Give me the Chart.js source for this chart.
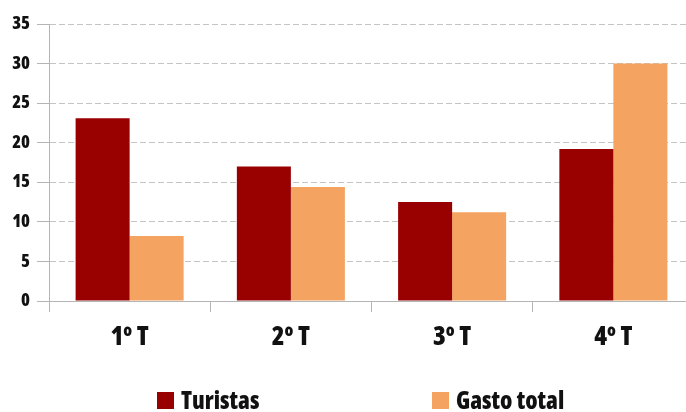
<!DOCTYPE html>
<html>
<head>
<meta charset="utf-8">
<script src="https://cdn.jsdelivr.net/npm/chart.js@4.4.1/dist/chart.umd.min.js"></script>
<style>
  html, body { margin: 0; padding: 0; background: #fff; overflow: hidden; }
  #wrap { width: 694px; height: 412px; position: relative; }
</style>
</head>
<body>
<div id="wrap"><canvas id="c" width="694" height="412"></canvas></div>
<script>
const categories = ["1º T", "2º T", "3º T", "4º T"];
const turistas = [23.1, 17.0, 12.5, 19.2];
const gastoTotal = [8.2, 14.4, 11.2, 30.0];
const seriesNames = ["Turistas", "Gasto total"];
const yTicks = [0, 5, 10, 15, 20, 25, 30, 35];

const FONT = "'Open Sans', 'Roboto Condensed', sans-serif";
const WEIGHT = "800 condensed";
const RED = "#990000";
const SAND = "#f4a460";

const legendPlugin = {
  id: 'bottomLegend',
  afterDraw(chart, args, opts) {
    const ctx = chart.ctx;
    ctx.save();
    ctx.font = WEIGHT + " " + opts.fontSize + "px " + FONT;
    ctx.textBaseline = 'alphabetic';
    ctx.textAlign = 'left';
    chart.data.datasets.forEach((ds, i) => {
      const x = opts.xs[i];
      ctx.fillStyle = ds.backgroundColor;
      ctx.fillRect(x, opts.boxTop, opts.boxSize, opts.boxSize);
      ctx.fillStyle = "#111";
      ctx.fillText(ds.label, x + opts.boxSize + 7, opts.baseline);
    });
    ctx.restore();
  }
};

new Chart(document.getElementById('c'), {
  type: 'bar',
  data: {
    labels: categories,
    datasets: [
      { label: seriesNames[0], data: turistas, backgroundColor: RED, borderWidth: 0 },
      { label: seriesNames[1], data: gastoTotal, backgroundColor: SAND, borderWidth: 0 }
    ]
  },
  options: {
    responsive: false,
    animation: false,
    devicePixelRatio: 1,
    layout: { padding: { top: 24, right: 0, bottom: 0, left: 0 } },
    datasets: { bar: { categoryPercentage: 0.67, barPercentage: 1.0 } },
    plugins: {
      legend: { display: false },
      tooltip: { enabled: false },
      bottomLegend: { xs: [157, 432], boxTop: 392, boxSize: 17, baseline: 409, fontSize: 24 }
    },
    scales: {
      x: {
        offset: true,
        grid: {
          offset: true,
          drawOnChartArea: false,
          drawTicks: true,
          tickLength: 11,
          color: "#b5b5b5",
          tickColor: "#b5b5b5"
        },
        border: { display: true, color: "#b5b5b5", width: 1 },
        ticks: {
          color: "#111",
          padding: 10,
          font: { family: FONT, size: 26, weight: WEIGHT },
          maxRotation: 0
        },
        afterFit(scale) { scale.height = 111; }
      },
      y: {
        min: 0,
        max: 35,
        afterBuildTicks(scale) { scale.ticks = yTicks.map(v => ({ value: v })); },
        grid: {
          color: "#c4c4c4",
          lineWidth: 1,
          tickBorderDash: [],
          tickColor: "#b5b5b5",
          tickLength: 12,
          drawTicks: true
        },
        border: { display: true, color: "#b5b5b5", width: 1, dash: [6, 3] },
        ticks: {
          color: "#111",
          padding: 7,
          font: { family: FONT, size: 18, weight: WEIGHT }
        },
        afterFit(scale) { scale.width = 49; }
      }
    }
  },
  plugins: [legendPlugin]
});
</script>
</body>
</html>
